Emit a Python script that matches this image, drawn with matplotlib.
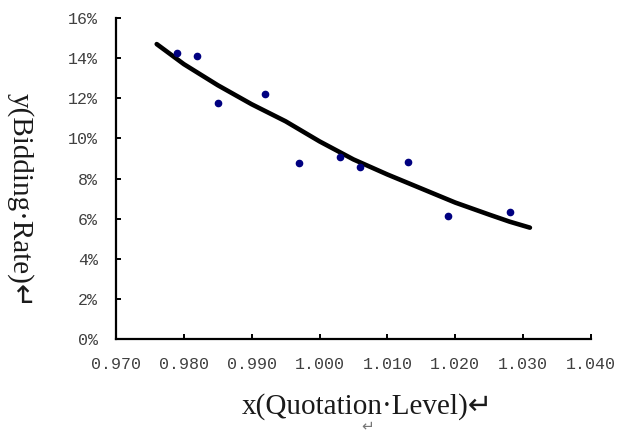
import matplotlib as mpl
import matplotlib.pyplot as plt
import numpy as np

# %% Data

quote_x = [0.979, 0.982, 0.985, 0.992, 0.997, 1.003, 1.006, 1.013, 1.019, 1.028]
bid_rate = [14.25, 14.1, 11.75, 12.2, 8.75, 9.05, 8.55, 8.8, 6.15, 6.35]

trend_x = [0.976, 0.980, 0.985, 0.990, 0.995, 1.000, 1.005, 1.010, 1.015, 1.020, 1.025, 1.028, 1.031]
trend_y = [14.7, 13.7, 12.65, 11.7, 10.85, 9.85, 8.95, 8.2, 7.5, 6.8, 6.2, 5.85, 5.55]

x_ticks = [0.970, 0.980, 0.990, 1.000, 1.010, 1.020, 1.030, 1.040]
y_ticks = [0, 2, 4, 6, 8, 10, 12, 14, 16]

# %% Plot

fig = plt.figure(figsize=(6.23, 4.33), dpi=100)
ax = fig.add_axes([0.1862, 0.2171, 0.7624, 0.7413])

ax.plot(trend_x, trend_y, c="black", linewidth=3.3, solid_capstyle="round",
        solid_joinstyle="round", zorder=2)
ax.plot(quote_x, bid_rate, "o", c="#000080", markersize=4.5, zorder=3)

ax.set_xlim(0.970, 1.040)
ax.set_ylim(0, 16)
ax.set_xticks(x_ticks)
ax.set_yticks(y_ticks)
ax.set_xticklabels([f"{v:.3f}" for v in x_ticks])
ax.set_yticklabels([f"{v}%" for v in y_ticks])

for side in ["top", "right"]:
    ax.spines[side].set_visible(False)
for side in ["left", "bottom"]:
    ax.spines[side].set_linewidth(1.6)
    ax.spines[side].set_capstyle("projecting")

ax.tick_params(direction="in", length=3.5, width=1.4, pad=13, labelcolor="#404040")
for lab in ax.get_xticklabels() + ax.get_yticklabels():
    lab.set_fontfamily("Liberation Mono")
    lab.set_fontsize(12)

fam = ["Liberation Serif", "DejaVu Sans"]
fig.text(367 / 623, 1 - 407 / 433, "x(Quotation\u00b7Level)\u21b5", family=fam,
         fontsize=21, ha="center", va="center", color="#1a1a1a")
fig.text(368 / 623, 1 - 427 / 433, "\u21b5", family=fam, fontsize=11,
         ha="center", va="center", color="#777777")
fig.text(20 / 623, 1 - 201 / 433, "y(Bidding\u00b7Rate)\u21b5", family=fam,
         fontsize=21, ha="center", va="center", rotation=-90, color="#1a1a1a")

fig.savefig("out.png", dpi=100)
